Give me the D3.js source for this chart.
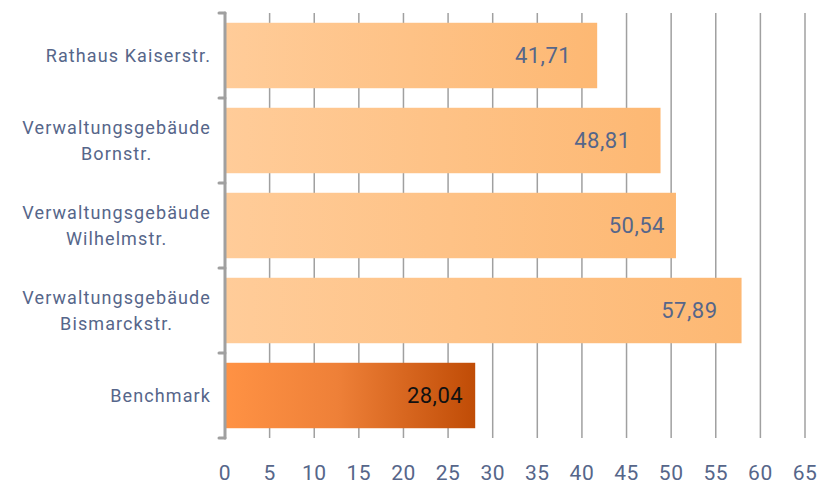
<!DOCTYPE html>
<html>
<head>
<meta charset="utf-8">
<script src="https://cdn.jsdelivr.net/npm/d3@7"></script>
<style>
  html, body { margin: 0; padding: 0; background: #fff; }
  svg { display: block; }
</style>
</head>
<body>
<svg id="chart" width="825" height="485"></svg>
<script>
// Category labels (line breaks as separate entries) and values
const categories = [
  ["Rathaus Kaiserstr."],
  ["Verwaltungsgebäude", "Bornstr."],
  ["Verwaltungsgebäude", "Wilhelmstr."],
  ["Verwaltungsgebäude", "Bismarckstr."],
  ["Benchmark"]
];
const values = [41.71, 48.81, 50.54, 57.89, 28.04];
const valueLabels = ["41,71", "48,81", "50,54", "57,89", "28,04"];
const isBenchmark = [false, false, false, false, true];
const xTicks = [0, 5, 10, 15, 20, 25, 30, 35, 40, 45, 50, 55, 60, 65];

// Layout: distance (px) between each value label and its bar end
const labelInset = [26, 30, 11, 24, 12];

const svg = d3.select("#chart");
const fontFam = "Roboto, 'DejaVu Sans', sans-serif";
const textColor = "#56668a";

const x = d3.scaleLinear().domain([0, 65]).range([225, 805]);
const yTop = 13, yBot = 438;
const y = d3.scaleBand().domain(d3.range(categories.length))
  .range([yTop, yBot]).paddingInner(0.23).paddingOuter(0.115);

const defs = svg.append("defs");
const gLight = defs.append("linearGradient").attr("id", "gLight")
  .attr("x1", "0%").attr("x2", "100%").attr("y1", "0%").attr("y2", "0%");
gLight.append("stop").attr("offset", "0%").attr("stop-color", "#ffcc99");
gLight.append("stop").attr("offset", "100%").attr("stop-color", "#fdb873");
const gDark = defs.append("linearGradient").attr("id", "gDark")
  .attr("x1", "0%").attr("x2", "100%").attr("y1", "0%").attr("y2", "0%");
gDark.append("stop").attr("offset", "0%").attr("stop-color", "#ff9244");
gDark.append("stop").attr("offset", "45%").attr("stop-color", "#ee8038");
gDark.append("stop").attr("offset", "100%").attr("stop-color", "#c04c06");

// Vertical gridlines
svg.append("g").selectAll("line").data(xTicks.filter(d => d > 0)).join("line")
  .attr("x1", d => x(d)).attr("x2", d => x(d))
  .attr("y1", yTop).attr("y2", yBot)
  .attr("stroke", "#a0a0a0").attr("stroke-width", 1.5);

// Bars
svg.append("g").selectAll("rect").data(values).join("rect")
  .attr("x", x(0))
  .attr("y", (d, i) => y(i))
  .attr("width", d => x(d) - x(0))
  .attr("height", y.bandwidth())
  .attr("fill", (d, i) => isBenchmark[i] ? "url(#gDark)" : "url(#gLight)");

// Value labels inside bars
svg.append("g").selectAll("text").data(values).join("text")
  .attr("x", (d, i) => x(d) - labelInset[i])
  .attr("y", (d, i) => y(i) + y.bandwidth() / 2)
  .attr("dy", "0.355em")
  .attr("text-anchor", "end")
  .attr("font-family", fontFam)
  .attr("font-size", 22)
  .attr("letter-spacing", 0.5)
  .attr("fill", (d, i) => isBenchmark[i] ? "#111" : textColor)
  .text((d, i) => valueLabels[i]);

// Category axis line with boundary ticks
const axisG = svg.append("g").attr("stroke", "#a0a0a0").attr("stroke-linecap", "round");
axisG.append("line").attr("x1", x(0)).attr("x2", x(0)).attr("y1", yTop).attr("y2", yBot)
  .attr("stroke-width", 3);
const bounds = d3.range(categories.length + 1).map(i => yTop + i * (yBot - yTop) / categories.length);
axisG.selectAll("line.tk").data(bounds).join("line").attr("class", "tk")
  .attr("x1", x(0) - 6).attr("x2", x(0)).attr("y1", d => d).attr("y2", d => d)
  .attr("stroke-width", 3);

// Category labels: block right-aligned, lines centered within the block
const labelRight = 211;
const lineH = 26;
const catG = svg.append("g");
categories.forEach((lines, i) => {
  const cy = y(i) + y.bandwidth() / 2;
  const t = catG.append("text")
    .attr("font-family", fontFam).attr("font-size", 18)
    .attr("letter-spacing", 1.1).attr("fill", textColor);
  const spans = lines.map((ln, j) => t.append("tspan")
    .attr("y", cy + (j - (lines.length - 1) / 2) * lineH)
    .attr("dy", "0.355em").text(ln));
  const widths = spans.map(s => s.node().getComputedTextLength());
  const maxW = d3.max(widths);
  spans.forEach(s => s.attr("x", labelRight - maxW / 2).attr("text-anchor", "middle"));
});

// X tick labels
svg.append("g").selectAll("text").data(xTicks).join("text")
  .attr("x", d => x(d)).attr("y", 472.5).attr("dy", "0.355em")
  .attr("text-anchor", "middle")
  .attr("font-family", fontFam).attr("font-size", 21)
  .attr("letter-spacing", 0.5)
  .attr("fill", textColor)
  .text(d => d);
</script>
</body>
</html>
